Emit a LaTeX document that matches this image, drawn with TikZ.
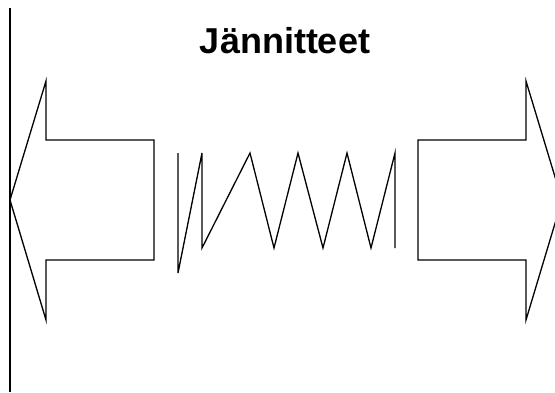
\documentclass[tikz,border=0pt]{standalone}
\usepackage{fontspec}
\setmainfont{Liberation Sans}
\begin{document}
\begin{tikzpicture}[x=1pt,y=-1pt,line width=1.3pt,
  outline/.style={draw=black,line join=miter},
  titletext/.style={font=\fontsize{36}{40}\selectfont\bfseries,inner sep=0pt,anchor=base}]
\useasboundingbox (0,0) rectangle (555,392);
\coordinate (wtop) at (10,8);
\coordinate (wbot) at (10,392);
\draw[outline] (wtop) -- (wbot);
\node[titletext] (title) at (285,53) {Jännitteet};
% left arrow
\draw[outline] (10,200) -- (46,81) -- (46,140) -- (154,140) -- (154,260) -- (46,260) -- (46,320) -- cycle;
% spring
\draw[outline] (178,153) -- (178,273) -- (202,153) -- (202,248) -- (250,153) -- (274,248) -- (298,153) -- (323,248) -- (347,153) -- (371,248) -- (395,153) -- (395,248);
% right arrow
\begin{scope}
\clip (0,0) rectangle (555,392);
\draw[outline] (562,200) -- (526,81) -- (526,140) -- (418,140) -- (418,260) -- (526,260) -- (526,320) -- cycle;
\end{scope}
\end{tikzpicture}
\end{document}
